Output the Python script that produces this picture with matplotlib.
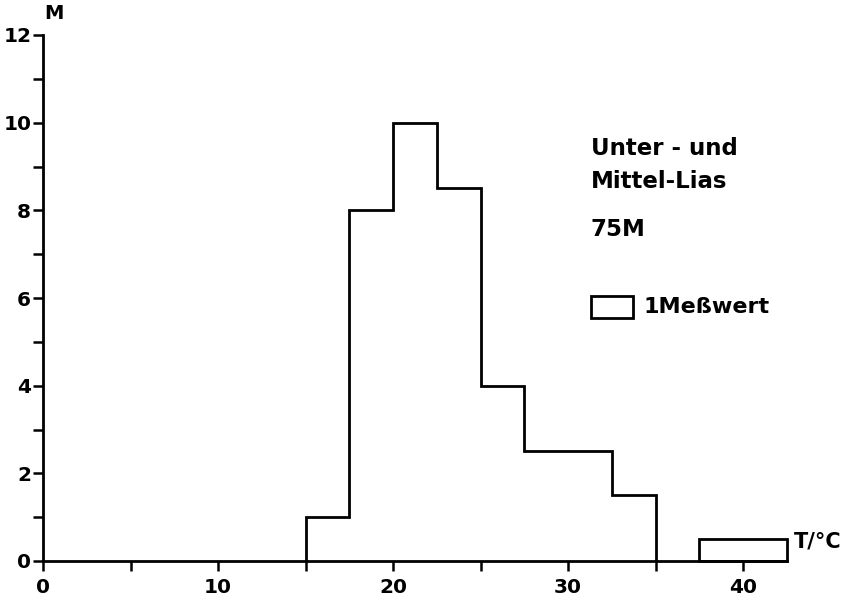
import matplotlib
matplotlib.use("Agg")
import matplotlib.pyplot as plt
from matplotlib.patches import Rectangle
from matplotlib.ticker import MultipleLocator

# Data
bin_edges = [15, 17.5, 20, 22.5, 25, 27.5, 30, 32.5, 35]
counts = [1, 8, 10, 8.5, 4, 2.5, 2.5, 1.5]
x_ticks = [0, 10, 20, 30, 40]
y_ticks = [0, 2, 4, 6, 8, 10, 12]
title_lines = ["Unter - und", "Mittel-Lias", "75M"]
legend_label = "1Meßwert"
x_label = "T/°C"
y_label = "M"

plt.rcParams['font.family'] = ['DejaVu Sans']
plt.rcParams['font.weight'] = 'bold'

fig = plt.figure(figsize=(8.44, 6.01), dpi=100)
ax = fig.add_axes([43/844, 40/601, 743.75/844, 526/601])

lw = 2.0
ax.stairs(counts, bin_edges, baseline=0, color='black', linewidth=lw)

ax.set_xlim(0, 42.5)
ax.set_ylim(0, 12)
for s in ['top', 'right']:
    ax.spines[s].set_visible(False)
for s in ['left', 'bottom']:
    ax.spines[s].set_linewidth(lw)

ax.set_xticks(x_ticks)
ax.set_yticks(y_ticks)
ax.xaxis.set_minor_locator(MultipleLocator(5))
ax.yaxis.set_minor_locator(MultipleLocator(1))
ax.tick_params(which='both', direction='out', width=1.8, length=7, labelsize=14.5)
ax.tick_params(axis='x', pad=5)
ax.tick_params(axis='y', pad=1.5)
for lab in ax.get_xticklabels() + ax.get_yticklabels():
    lab.set_fontweight('bold')

# Reference bar at bottom right (1 value)
ax.add_patch(Rectangle((37.5, 0), 5, 0.5, fill=False, edgecolor='black', linewidth=lw, clip_on=False))

# Legend box
ax.add_patch(Rectangle((31.3, 5.55), 2.4, 0.5, fill=False, edgecolor='black', linewidth=lw, clip_on=False))
ax.text(34.3, 5.8, legend_label, fontsize=16, va='center', ha='left', fontweight='bold')

ax.text(31.3, 9.4, title_lines[0], fontsize=16.5, va='center', ha='left', fontweight='bold')
ax.text(31.3, 8.65, title_lines[1], fontsize=16.5, va='center', ha='left', fontweight='bold')
ax.text(31.3, 7.56, title_lines[2], fontsize=16.5, va='center', ha='left', fontweight='bold')

ax.text(42.9, 0.45, x_label, fontsize=15, va='center', ha='left', clip_on=False, fontweight='bold')
ax.text(0.1, 12.5, y_label, fontsize=14, va='center', ha='left', clip_on=False, fontweight='bold')

fig.savefig("out.png", dpi=100)
